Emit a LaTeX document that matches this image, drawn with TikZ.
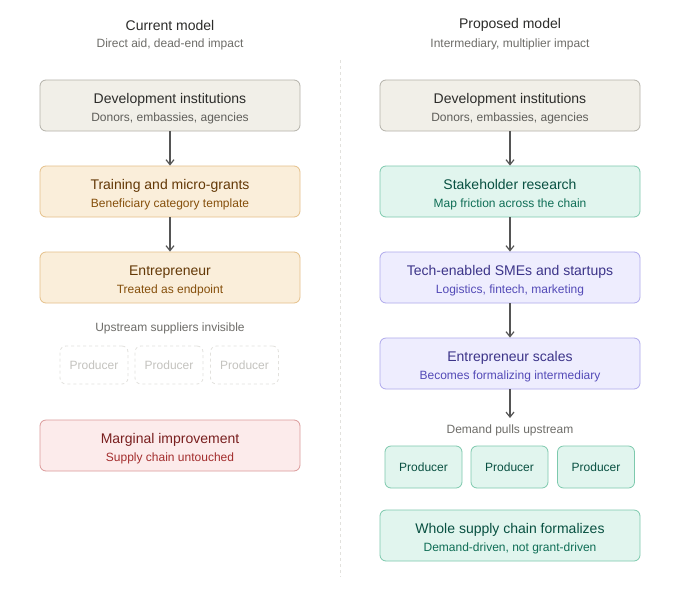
\documentclass[tikz,border=0pt]{standalone}
\usepackage{fontspec}
\setmainfont{Liberation Sans}
\usetikzlibrary{arrows.meta}
\definecolor{grayfill}{HTML}{F1EFE8}
\definecolor{grayline}{HTML}{B4B2A9}
\definecolor{graytext}{HTML}{2C2C2A}
\definecolor{graysub}{HTML}{5F5E5A}
\definecolor{orfill}{HTML}{FAEEDA}
\definecolor{orline}{HTML}{E5C08A}
\definecolor{ortext}{HTML}{633806}
\definecolor{orsub}{HTML}{854F0B}
\definecolor{grfill}{HTML}{E1F5EE}
\definecolor{grline}{HTML}{7DC9AD}
\definecolor{grtext}{HTML}{085041}
\definecolor{grsub}{HTML}{0F6E56}
\definecolor{pufill}{HTML}{EEEDFE}
\definecolor{puline}{HTML}{AFA9EC}
\definecolor{putext}{HTML}{3C3489}
\definecolor{pusub}{HTML}{534AB7}
\definecolor{refill}{HTML}{FCEBEB}
\definecolor{reline}{HTML}{DB9A9A}
\definecolor{retext}{HTML}{791F1F}
\definecolor{resub}{HTML}{A32D2D}
\definecolor{ghostline}{HTML}{E2E1DD}
\definecolor{ghosttext}{HTML}{C4C3BF}
\definecolor{labeltext}{HTML}{6E6D69}
\definecolor{arrowc}{HTML}{555555}
\tikzset{
  card/.style={rectangle, rounded corners=6pt, minimum width=260pt, minimum height=51pt, line width=0.8pt, align=center, inner sep=0pt},
  gcard/.style={card, fill=grayfill, draw=grayline, text=graytext},
  ocard/.style={card, fill=orfill, draw=orline, text=ortext},
  ncard/.style={card, fill=grfill, draw=grline, text=grtext},
  pcard/.style={card, fill=pufill, draw=puline, text=putext},
  rcard/.style={card, fill=refill, draw=reline, text=retext},
  ghost/.style={rectangle, rounded corners=6pt, minimum width=68pt, minimum height=38pt, draw=ghostline, dashed, line width=0.8pt, text=ghosttext, font=\fontsize{12}{14}\selectfont, inner sep=0pt},
  prod/.style={rectangle, rounded corners=6pt, minimum width=77pt, minimum height=42pt, draw=grline, fill=grfill, line width=0.8pt, text=grtext, font=\fontsize{12}{14}\selectfont, inner sep=0pt},
  flow/.style={draw=arrowc, line width=1.2pt, -{Straight Barb[length=5pt,width=8pt]}},
  coltitle/.style={font=\fontsize{14}{16}\selectfont, text=graytext},
  colsub/.style={font=\fontsize{12}{14}\selectfont, text=labeltext},
  midlabel/.style={font=\fontsize{12}{14}\selectfont, text=labeltext}
}
\newcommand{\cardtext}[3]{{\fontsize{14}{16}\selectfont\rule{0pt}{16pt}#1}\\[6pt]{\fontsize{12}{14}\selectfont\color{#3}#2}}
\begin{document}
\begin{tikzpicture}[x=1pt,y=-1pt]
\path[use as bounding box, fill=white] (0,0) rectangle (680,600);
\draw[ghostline, dashed, line width=0.8pt] (340,60) -- (340,577);

% column headers
\node[coltitle] (lt) at (170,25) {Current model};
\node[colsub] (ls) at (170,44) {Direct aid, dead-end impact};
\node[coltitle] (rt) at (510,25) {Proposed model};
\node[colsub] (rs) at (510,44) {Intermediary, multiplier impact};

% left column
\node[gcard] (l1) at (170,105.5) {\cardtext{Development institutions}{Donors, embassies, agencies}{graysub}};
\node[ocard] (l2) at (170,191.5) {\cardtext{Training and micro-grants}{Beneficiary category template}{orsub}};
\node[ocard] (l3) at (170,277.5) {\cardtext{Entrepreneur}{Treated as endpoint}{orsub}};
\node[midlabel] (lu) at (170,328) {Upstream suppliers invisible};
\node[ghost] (lp1) at (94,365) {Producer};
\node[ghost] (lp2) at (169,365) {Producer};
\node[ghost] (lp3) at (244.5,365) {Producer};
\node[rcard] (l4) at (170,445.5) {\cardtext{Marginal improvement}{Supply chain untouched}{resub}};
\draw[flow] (l1) -- (l2);
\draw[flow] (l2) -- (l3);

% right column
\node[gcard] (r1) at (510,105.5) {\cardtext{Development institutions}{Donors, embassies, agencies}{graysub}};
\node[ncard] (r2) at (510,191.5) {\cardtext{Stakeholder research}{Map friction across the chain}{grsub}};
\node[pcard] (r3) at (510,277.5) {\cardtext{Tech-enabled SMEs and startups}{Logistics, fintech, marketing}{pusub}};
\node[pcard] (r4) at (510,363.5) {\cardtext{Entrepreneur scales}{Becomes formalizing intermediary}{pusub}};
\node[midlabel] (ru) at (510,430) {Demand pulls upstream};
\coordinate (ra) at (510,418);
\node[prod] (rp1) at (423.5,467) {Producer};
\node[prod] (rp2) at (509.5,467) {Producer};
\node[prod] (rp3) at (596,467) {Producer};
\node[ncard] (r5) at (510,535.5) {\cardtext{Whole supply chain formalizes}{Demand-driven, not grant-driven}{grsub}};
\draw[flow] (r1) -- (r2);
\draw[flow] (r2) -- (r3);
\draw[flow] (r3) -- (r4);
\draw[flow] (r4) -- (ra);
\end{tikzpicture}
\end{document}
